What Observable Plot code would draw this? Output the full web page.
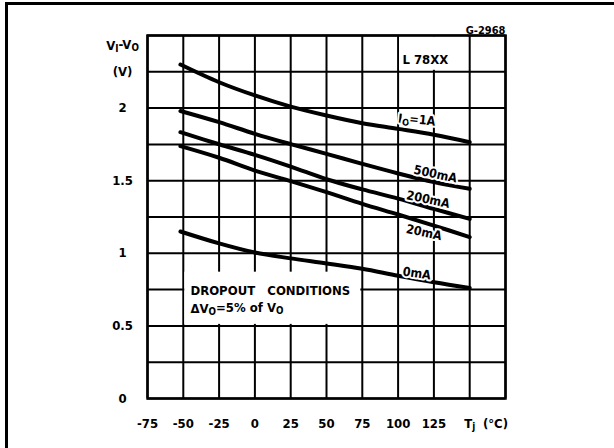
<!DOCTYPE html>
<html><head><meta charset="utf-8">
<script src="https://cdn.jsdelivr.net/npm/d3@7"></script>
<script src="https://cdn.jsdelivr.net/npm/@observablehq/plot@0.6"></script>
<style>
body{margin:0;background:#fff;}
#wrap{position:relative;width:614px;height:448px;overflow:hidden;background:#fff;}
#border{position:absolute;left:5px;top:2px;width:640px;height:480px;border-left:3px solid #000;border-top:3px solid #000;pointer-events:none;}
svg{display:block;}
</style></head><body>
<div id="wrap"><div id="chart"></div><div id="border"></div></div>
<script>
// junction temperature (°C) where curves were read
const temps = [-52, -25, 0, 25, 50, 75, 100, 125, 150];
// dropout voltage Vi-Vo (V) per output current
const v1A   = [2.30, 2.178, 2.087, 2.01, 1.949, 1.896, 1.857, 1.816, 1.765];
const v500  = [1.98, 1.903, 1.823, 1.752, 1.685, 1.616, 1.55, 1.49, 1.444];
const v200  = [1.834, 1.751, 1.678, 1.597, 1.51, 1.44, 1.377, 1.306, 1.237];
const v20   = [1.738, 1.658, 1.570, 1.497, 1.421, 1.341, 1.267, 1.191, 1.111];
const v0    = [1.150, 1.068, 1.005, 0.965, 0.930, 0.893, 0.845, 0.801, 0.762];
const seriesNames = ["IO=1A", "500mA", "200mA", "20mA", "0mA"];

// axis ticks and labels
const xTicks = [-75, -50, -25, 0, 25, 50, 75, 100, 125, 150, 168];
const xTickLabels = ["-75", "-50", "-25", "0", "25", "50", "75", "100", "125", "Tj", "(°C)"];
const yTicks = [0, 0.5, 1, 1.5, 2, 2.25, 2.43];
const yTickLabels = ["0", "0.5", "1", "1.5", "2", "(V)", "Vi-Vo"];
const xGrid = [-75, -50, -25, 0, 25, 50, 75, 100, 125, 150, 175];
const yGrid = [0, 0.25, 0.5, 0.75, 1, 1.25, 1.5, 1.75, 2, 2.25, 2.5];

// curve label anchors (data units) and tilt
const labelX = [113, 126, 121, 118, 113];
const labelY = [1.915, 1.545, 1.37, 1.143, 0.861];
const labelTilt = [6, 12, 12, 12, 8];

// annotations
const partName = "L 78XX";
const partX = 119, partY = 2.33;
const partCell = {x1: 100, x2: 150, y1: 2.25, y2: 2.5};
const noteLines = ["DROPOUT\u00A0\u00A0\u00A0CONDITIONS", "ΔVO=5% of VO"];
const noteX = -45;
const noteY = [0.74, 0.62];
const noteBox = {x1: -50, x2: 75, y1: 0.5, y2: 0.87};
const figId = "G-2968";

const allSeries = [v1A, v500, v200, v20, v0];
const rows = [];
allSeries.forEach((vals, s) => vals.forEach((v, i) => rows.push({s: seriesNames[s], t: temps[i], v})));
const labels = seriesNames.map((n, i) => ({text: n, x: labelX[i], y: labelY[i], r: labelTilt[i]}));
const notes = noteLines.map((t, i) => ({text: t, x: noteX, y: noteY[i]}));

const xLab = new Map(xTicks.map((t, i) => [t, xTickLabels[i]]));
const yLab = new Map(yTicks.map((t, i) => [t, yTickLabels[i]]));
const FONT = "'Liberation Sans Narrow','DejaVu Sans Condensed','Arial Narrow',sans-serif";

const plot = Plot.plot({
  width: 614, height: 448,
  marginLeft: 147, marginRight: 109, marginTop: 35, marginBottom: 50,
  style: {fontFamily: FONT, fontWeight: "bold", fontSize: "13px", color: "black", background: "white"},
  x: {domain: [-75, 175], axis: null},
  y: {domain: [0, 2.5], axis: null},
  marks: [
    Plot.ruleX(xGrid, {stroke: "black", strokeWidth: 2}),
    Plot.ruleY(yGrid, {stroke: "black", strokeWidth: 2}),
    Plot.rect([noteBox], {x1: "x1", x2: "x2", y1: "y1", y2: "y2", fill: "white", insetLeft: 1.5, insetRight: 1.5, insetBottom: 1.5}),
    Plot.rect([partCell], {x1: "x1", x2: "x2", y1: "y1", y2: "y2", fill: "white", inset: 1.5}),
    Plot.frame({stroke: "black", strokeWidth: 2.5}),
    Plot.line(rows, {x: "t", y: "v", z: "s", stroke: "black", strokeWidth: 4, curve: "catmull-rom"}),
    Plot.text(labels, {x: "x", y: "y", text: "text", rotate: "r", fontSize: 12.5, fontWeight: "bold", stroke: "white", strokeWidth: 4, paintOrder: "stroke", fill: "black"}),
    Plot.text([partName], {x: () => partX, y: () => partY, text: d => d, fontSize: 13, fontWeight: "bold"}),
    Plot.text(notes, {x: "x", y: "y", text: "text", textAnchor: "start", fontSize: 13, fontWeight: "bold"}),
    Plot.text([figId], {frameAnchor: "top-right", text: d => d, textAnchor: "end", lineAnchor: "bottom", dy: -2, fontSize: 11, fontWeight: "bold"}),
    Plot.axisX(xTicks, {anchor: "bottom", tickSize: 0, tickPadding: 20, tickFormat: d => xLab.get(d), label: null, fontSize: 13, fontWeight: "bold"}),
    Plot.axisY(yTicks, {anchor: "left", tickSize: 0, tickPadding: 25, textAnchor: "middle", tickFormat: d => yLab.get(d), label: null, fontSize: 13, fontWeight: "bold"})
  ]
});
document.getElementById("chart").appendChild(plot);

// subscripts
const NS = "http://www.w3.org/2000/svg";
const subs = {
  "Vi-Vo": [["V", 0], ["I", 1], ["-V", 0], ["O", 1]],
  "Tj": [["T", 0], ["j", 1]],
  "IO=1A": [["I", 0], ["O", 1], ["=1A", 0]],
  "ΔVO=5% of VO": [["ΔV", 0], ["O", 1], ["=5% of V", 0], ["O", 1]]
};
plot.querySelectorAll("text").forEach(el => {
  const parts = subs[el.textContent];
  if (!parts) return;
  el.textContent = "";
  let prev = 0;
  for (const [t, s] of parts) {
    const ts = document.createElementNS(NS, "tspan");
    ts.textContent = t;
    if (s && !prev) ts.setAttribute("dy", "0.25em");
    if (!s && prev) ts.setAttribute("dy", "-0.25em");
    if (s) ts.setAttribute("font-size", "75%");
    el.appendChild(ts);
    prev = s;
  }
});
</script>
</body></html>
